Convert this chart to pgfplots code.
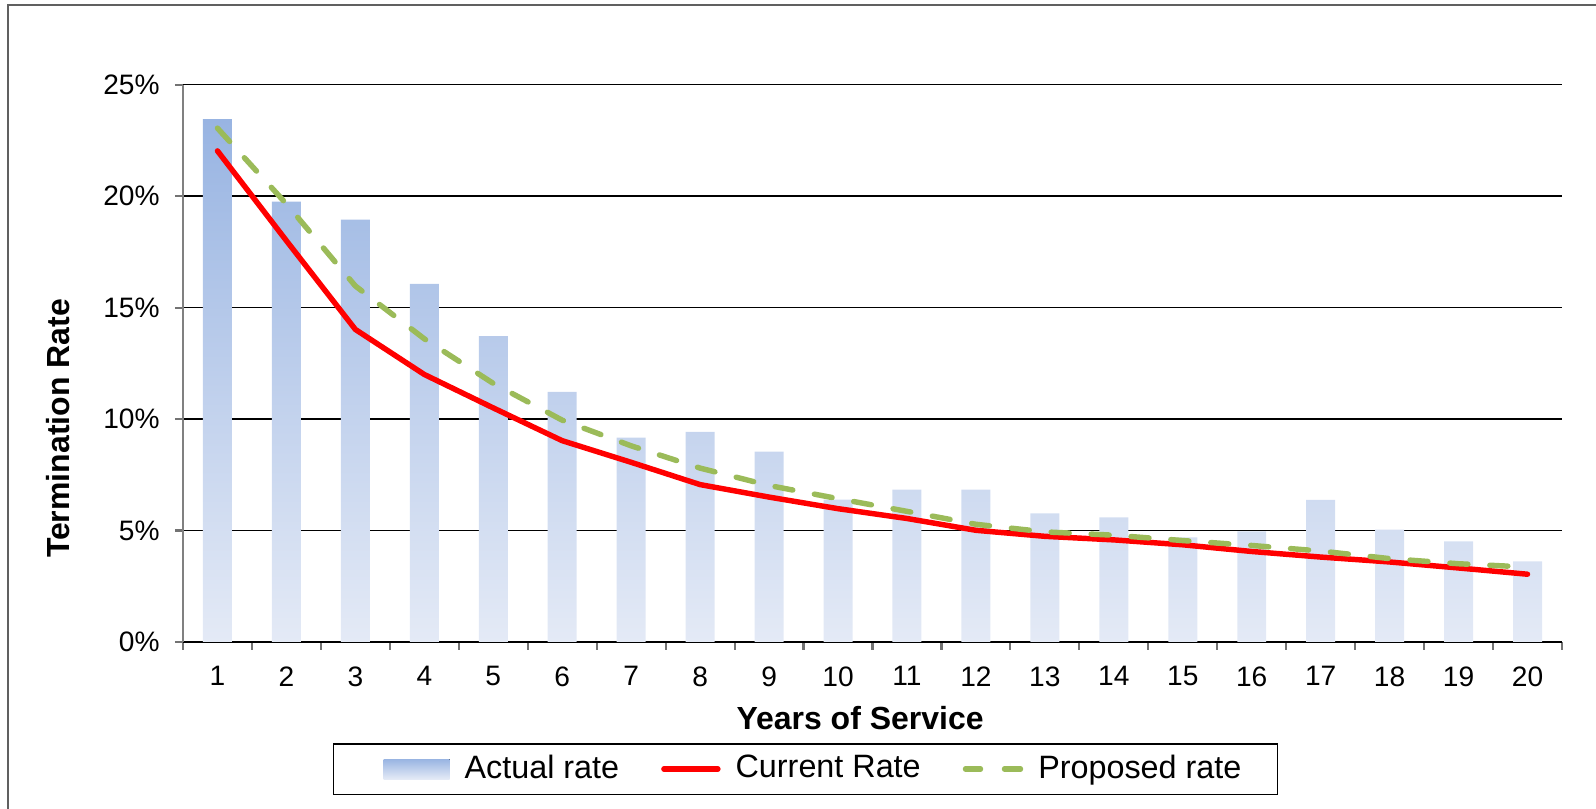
\documentclass[border=0pt]{standalone}
\usepackage{pgfplots}
\pgfplotsset{compat=1.18}
\usepackage{fontspec}
\setmainfont{Liberation Sans}
\definecolor{bartop}{HTML}{98B4E2}
\definecolor{barbot}{HTML}{E4EAF6}
\definecolor{pgreen}{HTML}{9BBB59}
\definecolor{framegray}{HTML}{606060}
\begin{document}
\begin{tikzpicture}
\useasboundingbox (0,0) rectangle (159.6mm,80.9mm);
\draw[framegray, line width=0.2mm] (0.84mm,-2mm) -- (0.84mm,80.43mm) -- (162mm,80.43mm);
\begin{axis}[
  at={(18.3mm,16.7mm)}, anchor=south west,
  scale only axis, width=137.9mm, height=55.73mm,
  xmin=0.5, xmax=20.5, ymin=0, ymax=25,
  axis x line*=bottom, axis y line*=left,
  axis line style={-},
  x axis line style={black, line width=0.5pt},
  y axis line style={black!50, line width=0.6pt},
  xtick={0.5,1.5,...,20.5},
  x tick label as interval=true,
  xticklabels={1,2,3,4,5,6,7,8,9,10,11,12,13,14,15,16,17,18,19,20},
  ytick={0,5,10,15,20,25},
  yticklabel={\pgfmathprintnumber{\tick}\%},
  /pgf/number format/assume math mode=true,
  tick align=outside, major tick length=0.8mm,
  tick style={black!55, line width=0.6pt},
  ymajorgrids, grid style={black, line width=0.45pt},
  ticklabel style={font=\fontsize{8}{9.6}\selectfont},
  yticklabel style={xshift=-0.3mm},
  xticklabel style={yshift=-0.4mm},
  xlabel={\bfseries Years of Service},
  ylabel={\bfseries Termination Rate},
  label style={font=\fontsize{9.1}{11}\selectfont},
  xlabel style={at={(axis description cs:0.491,0)}, anchor=center, yshift=-7.6mm},
  ylabel style={at={(axis description cs:-0.0906,0.383)}, anchor=center},
  legend columns=3,
  legend style={at={(axis description cs:0.4514,-0.2279)}, anchor=center,
    draw=black, line width=0.5pt, font=\fontsize{9.2}{11}\selectfont,
    /tikz/every odd column/.append style={column sep=0.8mm},
    /tikz/every even column/.append style={column sep=3.5mm},
    inner xsep=2.9mm, inner ysep=0.4mm},
  clip=false,
]
\addplot[ybar, bar width=0.42, draw=none, top color=bartop, bottom color=barbot,
  legend image code/.code={\path (-2.1mm,0mm); \fill[top color=bartop, bottom color=barbot, draw=none] (0mm,-1mm) rectangle (6.6mm,1mm);}]
  coordinates {(1,23.45) (2,19.75) (3,18.95) (4,16.06) (5,13.72) (6,11.22) (7,9.17) (8,9.43) (9,8.54) (10,6.39)
  (11,6.84) (12,6.84) (13,5.77) (14,5.59) (15,4.69) (16,4.96) (17,6.38) (18,5.04) (19,4.51) (20,3.62)};
\addlegendentry{Actual rate}
\addplot[sharp plot, red, line width=1.55pt, line cap=round, line join=round, mark=none,
  legend image code/.code={\draw[red, line width=1.55pt, line cap=round] (0.3mm,0mm) -- (5.7mm,0mm);}]
  coordinates {(1,22.03) (2,18.0) (3,14.02) (4,12.0) (5,10.5) (6,9.03) (7,8.06) (8,7.06) (9,6.5) (10,5.98)
  (11,5.54) (12,5.01) (13,4.74) (14,4.58) (15,4.36) (16,4.06) (17,3.81) (18,3.59) (19,3.32) (20,3.04)};
\addlegendentry{Current Rate}
\addplot[sharp plot, pgreen, line width=1.55pt, line cap=round, mark=none, dash pattern=on 1.8mm off 2.2mm,
  legend image code/.code={\draw[pgreen, line width=1.55pt, line cap=round] (0.3mm,0mm) -- (1.8mm,0mm) (4.2mm,0mm) -- (5.8mm,0mm);}]
  coordinates {(1,23.05) (2,19.65) (3,15.97) (4,13.6) (5,11.6) (6,9.95) (7,8.8) (8,7.8) (9,7.02) (10,6.43)
  (11,5.86) (12,5.28) (13,4.94) (14,4.79) (15,4.55) (16,4.33) (17,4.08) (18,3.74) (19,3.51) (20,3.36)};
\addlegendentry{Proposed rate}
\end{axis}
\end{tikzpicture}
\end{document}
